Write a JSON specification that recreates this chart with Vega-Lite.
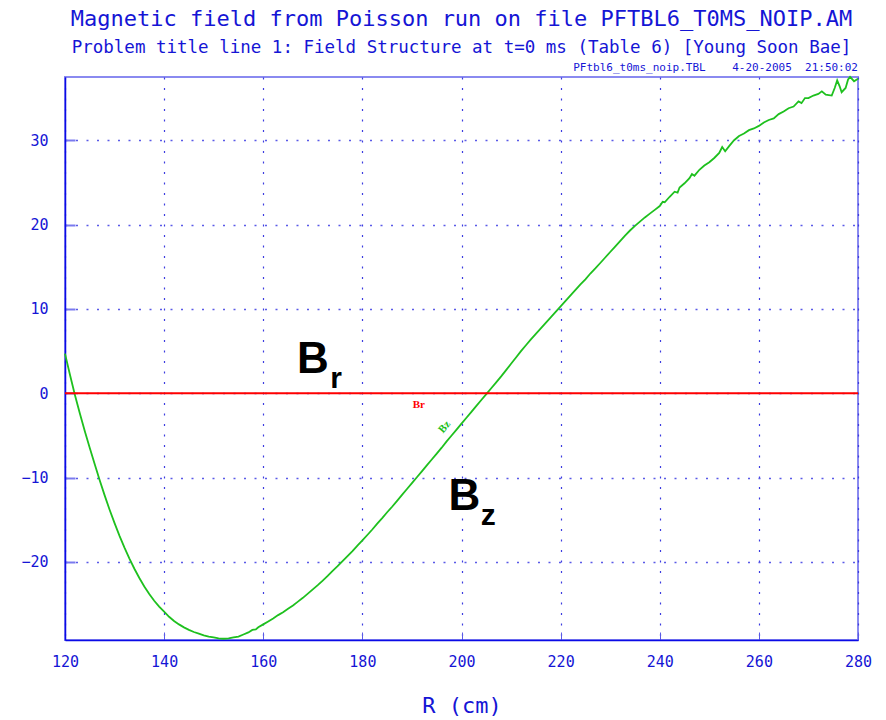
{
  "$schema": "https://vega.github.io/schema/vega-lite/v6.json",
  "width": 793,
  "height": 563,
  "autosize": {"type": "none"},
  "padding": {"left": 65, "top": 77, "right": 28, "bottom": 80},
  "background": "white",
  "config": {
    "view": {"stroke": "#8a8af0", "strokeWidth": 2},
    "font": "DejaVu Sans Mono"
  },
  "title": {
    "text": "Magnetic field from Poisson run on file PFTBL6_T0MS_NOIP.AM",
    "subtitle": "Problem title line 1: Field Structure at t=0 ms (Table 6) [Young Soon Bae]",
    "anchor": "middle",
    "font": "DejaVu Sans Mono",
    "fontSize": 22,
    "fontWeight": "normal",
    "color": "#1515d5",
    "subtitleFont": "DejaVu Sans Mono",
    "subtitleFontSize": 17.5,
    "subtitleColor": "#1515d5",
    "subtitlePadding": 8,
    "offset": 5
  },
  "datasets": {
    "bz": [
      {"R": 120, "Bz": 4.7}, {"R": 121, "Bz": 2.2}, {"R": 122, "Bz": -0.2}, {"R": 123, "Bz": -2.4},
      {"R": 124, "Bz": -4.5}, {"R": 125, "Bz": -6.5}, {"R": 126, "Bz": -8.4}, {"R": 127, "Bz": -10.3},
      {"R": 128, "Bz": -12.1}, {"R": 129, "Bz": -13.8}, {"R": 130, "Bz": -15.4}, {"R": 131, "Bz": -16.9},
      {"R": 132, "Bz": -18.3}, {"R": 133, "Bz": -19.6}, {"R": 134, "Bz": -20.8}, {"R": 135, "Bz": -21.9},
      {"R": 136, "Bz": -22.9}, {"R": 137, "Bz": -23.8}, {"R": 138, "Bz": -24.6}, {"R": 139, "Bz": -25.3},
      {"R": 140, "Bz": -25.9}, {"R": 141, "Bz": -26.5}, {"R": 142, "Bz": -27.0}, {"R": 143, "Bz": -27.4},
      {"R": 144, "Bz": -27.75}, {"R": 145, "Bz": -28.05}, {"R": 146, "Bz": -28.3}, {"R": 147, "Bz": -28.5},
      {"R": 148, "Bz": -28.7}, {"R": 149, "Bz": -28.85}, {"R": 150, "Bz": -28.95}, {"R": 151, "Bz": -29.05},
      {"R": 152, "Bz": -29.1}, {"R": 153, "Bz": -29.05}, {"R": 154, "Bz": -28.95}, {"R": 155, "Bz": -28.85},
      {"R": 156, "Bz": -28.6}, {"R": 157, "Bz": -28.35}, {"R": 157.8, "Bz": -28.05}, {"R": 158.5, "Bz": -28.0},
      {"R": 159, "Bz": -27.75}, {"R": 160, "Bz": -27.4}, {"R": 161, "Bz": -27.05}, {"R": 162, "Bz": -26.7},
      {"R": 163, "Bz": -26.3}, {"R": 164, "Bz": -25.95}, {"R": 165, "Bz": -25.55}, {"R": 166, "Bz": -25.15},
      {"R": 167, "Bz": -24.7}, {"R": 168, "Bz": -24.25}, {"R": 169, "Bz": -23.75}, {"R": 170, "Bz": -23.25},
      {"R": 171, "Bz": -22.75}, {"R": 172, "Bz": -22.2}, {"R": 173, "Bz": -21.65}, {"R": 174, "Bz": -21.05},
      {"R": 175, "Bz": -20.5}, {"R": 176, "Bz": -19.9}, {"R": 177, "Bz": -19.3}, {"R": 178, "Bz": -18.7},
      {"R": 179, "Bz": -18.05}, {"R": 180, "Bz": -17.45}, {"R": 181, "Bz": -16.8}, {"R": 182, "Bz": -16.15},
      {"R": 183, "Bz": -15.45}, {"R": 184, "Bz": -14.8}, {"R": 185, "Bz": -14.1}, {"R": 186, "Bz": -13.45},
      {"R": 187, "Bz": -12.75}, {"R": 188, "Bz": -12.05}, {"R": 189, "Bz": -11.35}, {"R": 190, "Bz": -10.65},
      {"R": 191, "Bz": -9.95}, {"R": 192, "Bz": -9.25}, {"R": 193, "Bz": -8.55}, {"R": 194, "Bz": -7.85},
      {"R": 195, "Bz": -7.15}, {"R": 196, "Bz": -6.45}, {"R": 197, "Bz": -5.7}, {"R": 198, "Bz": -5.0},
      {"R": 199, "Bz": -4.3}, {"R": 200, "Bz": -3.6}, {"R": 201, "Bz": -2.9}, {"R": 202, "Bz": -2.2},
      {"R": 203, "Bz": -1.5}, {"R": 204, "Bz": -0.8}, {"R": 205, "Bz": -0.1}, {"R": 206, "Bz": 0.6},
      {"R": 207, "Bz": 1.3}, {"R": 208, "Bz": 2.0}, {"R": 209, "Bz": 2.75}, {"R": 210, "Bz": 3.5},
      {"R": 211, "Bz": 4.25}, {"R": 212, "Bz": 5.0}, {"R": 213, "Bz": 5.7}, {"R": 214, "Bz": 6.4},
      {"R": 215, "Bz": 7.05}, {"R": 216, "Bz": 7.7}, {"R": 217, "Bz": 8.35}, {"R": 218, "Bz": 9.0},
      {"R": 219, "Bz": 9.65}, {"R": 220, "Bz": 10.3}, {"R": 221, "Bz": 10.95}, {"R": 222, "Bz": 11.6},
      {"R": 223, "Bz": 12.25}, {"R": 224, "Bz": 12.9}, {"R": 225, "Bz": 13.5}, {"R": 226, "Bz": 14.2},
      {"R": 227, "Bz": 14.8}, {"R": 228, "Bz": 15.45}, {"R": 229, "Bz": 16.1}, {"R": 230, "Bz": 16.75},
      {"R": 231, "Bz": 17.4}, {"R": 232, "Bz": 18.05}, {"R": 233, "Bz": 18.7}, {"R": 234, "Bz": 19.3},
      {"R": 235, "Bz": 19.85}, {"R": 236, "Bz": 20.35}, {"R": 237, "Bz": 20.85}, {"R": 238, "Bz": 21.3},
      {"R": 239, "Bz": 21.75}, {"R": 240, "Bz": 22.2}, {"R": 240.6, "Bz": 22.7},
      {"R": 241, "Bz": 22.65}, {"R": 242, "Bz": 23.3}, {"R": 243, "Bz": 23.9}, {"R": 243.6, "Bz": 23.8},
      {"R": 244, "Bz": 24.4}, {"R": 245, "Bz": 24.9}, {"R": 246, "Bz": 25.5}, {"R": 246.5, "Bz": 26.0},
      {"R": 247, "Bz": 25.8}, {"R": 248, "Bz": 26.5}, {"R": 249, "Bz": 27.0}, {"R": 250, "Bz": 27.4},
      {"R": 251, "Bz": 27.9}, {"R": 252, "Bz": 28.5}, {"R": 252.6, "Bz": 29.2}, {"R": 253.2, "Bz": 28.7},
      {"R": 254, "Bz": 29.3}, {"R": 255, "Bz": 30.0}, {"R": 256, "Bz": 30.5}, {"R": 257, "Bz": 30.8},
      {"R": 258, "Bz": 31.2}, {"R": 259, "Bz": 31.4}, {"R": 260, "Bz": 31.7}, {"R": 261, "Bz": 32.1},
      {"R": 262, "Bz": 32.4}, {"R": 263, "Bz": 32.6}, {"R": 264, "Bz": 33.1}, {"R": 265, "Bz": 33.4},
      {"R": 266, "Bz": 33.8}, {"R": 267, "Bz": 34.0}, {"R": 268, "Bz": 34.6}, {"R": 268.6, "Bz": 34.4},
      {"R": 269.3, "Bz": 35.0}, {"R": 270, "Bz": 35.0}, {"R": 271, "Bz": 35.3}, {"R": 272, "Bz": 35.5},
      {"R": 272.7, "Bz": 35.8}, {"R": 273.5, "Bz": 35.4}, {"R": 274.7, "Bz": 35.3}, {"R": 275.3, "Bz": 36.2},
      {"R": 275.8, "Bz": 37.1}, {"R": 276.3, "Bz": 36.4}, {"R": 276.7, "Bz": 35.7}, {"R": 277.5, "Bz": 36.2},
      {"R": 278, "Bz": 37.2}, {"R": 278.4, "Bz": 37.5}, {"R": 279.2, "Bz": 37.0}, {"R": 280, "Bz": 37.3}
    ],
    "br": [{"R": 120, "Br": 0}, {"R": 280, "Br": 0}],
    "bigB": [
      {"R": 166.8, "v": 2.4, "label": "B"},
      {"R": 197.4, "v": -13.8, "label": "B"}
    ],
    "subs": [
      {"R": 173.5, "v": 0.6, "label": "r"},
      {"R": 203.9, "v": -15.6, "label": "z"}
    ],
    "brTag": [{"R": 191.4, "v": -1.4, "label": "Br"}],
    "bzTag": [{"R": 196.6, "v": -4.0, "label": "Bz"}],
    "stamp": [{"R": 280, "v": 37.5, "label": "PFtbl6_t0ms_noip.TBL\u00a0\u00a0\u00a0\u00a04-20-2005\u00a0\u00a021:50:02"}]
  },
  "layer": [
    {
      "data": {"name": "bz"},
      "mark": {"type": "line", "color": "#1ec01e", "strokeWidth": 1.8},
      "encoding": {
        "x": {
          "field": "R", "type": "quantitative",
          "scale": {"domain": [120, 280], "nice": false, "zero": false},
          "axis": {
            "values": [120, 140, 160, 180, 200, 220, 240, 260, 280],
            "grid": true, "gridDash": [2, 8.5], "gridColor": "#3c3ce0", "gridWidth": 1.2,
            "domainColor": "#0a0ae6", "domainWidth": 1.5,
            "tickSize": -8, "tickColor": "#5a5ae6", "tickWidth": 1,
            "labelPadding": 22, "labelFont": "DejaVu Sans Mono", "labelFontSize": 15, "labelColor": "#1515d5",
            "labelFlush": false,
            "title": "R (cm)", "titleFont": "DejaVu Sans Mono", "titleFontSize": 22, "titleFontWeight": "normal",
            "titleColor": "#1515d5", "titlePadding": 26
          }
        },
        "y": {
          "field": "Bz", "type": "quantitative",
          "scale": {"domain": [-29.25, 37.5], "nice": false, "zero": false},
          "axis": {
            "values": [-20, -10, 0, 10, 20, 30],
            "grid": true, "gridDash": [2, 8.5], "gridColor": "#5a5ae8", "gridWidth": 1.5,
            "domainColor": "#0a0ae6", "domainWidth": 1.5,
            "tickSize": -10, "tickColor": "#7a7aee", "tickWidth": 2,
            "labelPadding": 27, "labelFont": "DejaVu Sans Mono", "labelFontSize": 15, "labelColor": "#1515d5",
            "title": null
          }
        }
      }
    },
    {
      "data": {"name": "br"},
      "mark": {"type": "line", "color": "#ff0000", "strokeWidth": 2},
      "encoding": {
        "x": {"field": "R", "type": "quantitative"},
        "y": {"field": "Br", "type": "quantitative"}
      }
    },
    {
      "data": {"name": "bigB"},
      "mark": {"type": "text", "font": "Liberation Sans", "fontWeight": "bold", "fontSize": 44, "align": "left", "baseline": "alphabetic", "color": "#000000"},
      "encoding": {
        "x": {"field": "R", "type": "quantitative"},
        "y": {"field": "v", "type": "quantitative"},
        "text": {"field": "label"}
      }
    },
    {
      "data": {"name": "subs"},
      "mark": {"type": "text", "font": "Liberation Sans", "fontWeight": "bold", "fontSize": 30, "align": "left", "baseline": "alphabetic", "color": "#000000"},
      "encoding": {
        "x": {"field": "R", "type": "quantitative"},
        "y": {"field": "v", "type": "quantitative"},
        "text": {"field": "label"}
      }
    },
    {
      "data": {"name": "brTag"},
      "mark": {"type": "text", "font": "Liberation Serif", "fontWeight": "bold", "fontSize": 11, "align": "center", "baseline": "middle", "color": "#ff0000"},
      "encoding": {
        "x": {"field": "R", "type": "quantitative"},
        "y": {"field": "v", "type": "quantitative"},
        "text": {"field": "label"}
      }
    },
    {
      "data": {"name": "bzTag"},
      "mark": {"type": "text", "font": "Liberation Serif", "fontWeight": "bold", "fontSize": 11, "align": "center", "baseline": "middle", "angle": -50, "color": "#1ec01e"},
      "encoding": {
        "x": {"field": "R", "type": "quantitative"},
        "y": {"field": "v", "type": "quantitative"},
        "text": {"field": "label"}
      }
    },
    {
      "data": {"name": "stamp"},
      "mark": {"type": "text", "font": "DejaVu Sans Mono", "fontSize": 11, "align": "right", "baseline": "bottom", "dy": -4, "color": "#1515d5"},
      "encoding": {
        "x": {"field": "R", "type": "quantitative"},
        "y": {"field": "v", "type": "quantitative"},
        "text": {"field": "label"}
      }
    }
  ]
}
